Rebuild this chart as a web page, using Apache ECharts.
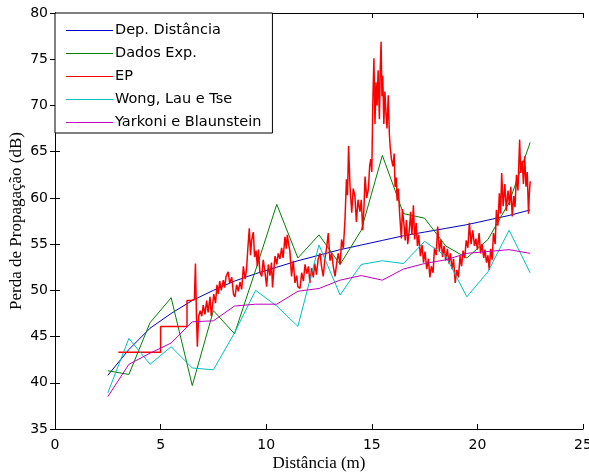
<!DOCTYPE html>
<html>
<head>
<meta charset="utf-8">
<script src="https://cdn.jsdelivr.net/npm/echarts@6/dist/echarts.min.js"></script>
<style>
  html, body { margin: 0; padding: 0; background: #fff; }
  #chart { width: 589px; height: 474px; }
</style>
</head>
<body>
<div id="chart"></div>
<script>
// distancias (m) dos pontos medidos / modelos
var distancias = [2.5, 3.5, 4.5, 5.5, 6.5, 7.5, 8.5, 9.5, 10.5, 11.5, 12.5,
  13.5, 14.5, 15.5, 16.5, 17.5, 18.5, 19.5, 20.5, 21.5, 22.5];

var depDistancia = [40.8, 43.6, 45.9, 47.5, 48.9, 50.0, 51.0, 51.8, 52.5, 53.2, 53.8,
  54.4, 54.9, 55.4, 55.9, 56.3, 56.7, 57.1, 57.6, 58.1, 58.7];

var dadosExp = [41.3, 40.9, 46.5, 49.2, 39.7, 47.8, 45.3, 52.2, 59.3, 53.5, 56.0,
  52.8, 56.5, 64.6, 58.3, 57.8, 54.8, 53.5, 55.5, 59.5, 66.0];

var wongLauTse = [38.9, 44.8, 42.0, 43.9, 41.6, 41.4, 45.4, 50.0, 48.3, 46.1, 54.9,
  49.5, 52.8, 53.2, 52.9, 55.3, 53.7, 49.3, 52.0, 56.5, 51.9];

var yarkoniBlaunstein = [38.5, 42.0, 43.2, 44.3, 46.6, 46.7, 48.3, 48.5, 48.5, 49.9, 50.2,
  51.1, 51.6, 51.1, 52.3, 52.9, 53.3, 54.0, 54.2, 54.4, 54.0];

// curva EP (amostrada da figura)
var epDist = [3.0, 5.0, 5.0, 6.25, 6.25, 6.45, 6.6, 6.65, 6.7, 6.74, 6.8, 6.88, 6.95,
  7.02, 7.1, 7.18, 7.25, 7.34, 7.4, 7.46, 7.52, 7.6, 7.67, 7.73, 7.8, 7.87, 7.97,
  8.03, 8.1, 8.2, 8.27, 8.37, 8.45, 8.52, 8.6, 8.68, 8.76, 8.84, 8.92, 9.0, 9.07,
  9.13, 9.2, 9.26, 9.31, 9.39, 9.45, 9.52, 9.58, 9.63, 9.7, 9.79, 9.86, 9.94, 10.02,
  10.1, 10.18, 10.25, 10.3, 10.37, 10.42, 10.5, 10.57, 10.65, 10.73, 10.8, 10.89,
  10.95, 11.0, 11.06, 11.12, 11.2, 11.28, 11.36, 11.44, 11.5, 11.6, 11.68, 11.76,
  11.84, 11.92, 12.0, 12.07, 12.15, 12.23, 12.3, 12.38, 12.46, 12.55, 12.62, 12.7,
  12.78, 12.86, 12.94, 13.02, 13.1, 13.18, 13.26, 13.34, 13.41, 13.5, 13.57, 13.65,
  13.73, 13.8, 13.85, 13.9, 13.97, 14.05, 14.12, 14.2, 14.27, 14.35, 14.44, 14.5,
  14.57, 14.63, 14.68, 14.76, 14.84, 14.9, 14.95, 15.0, 15.05, 15.1, 15.15, 15.2,
  15.25, 15.3, 15.36, 15.4, 15.44, 15.48, 15.52, 15.57, 15.62, 15.67, 15.72, 15.78,
  15.83, 15.87, 15.93, 16.0, 16.06, 16.1, 16.16, 16.2, 16.26, 16.32, 16.4, 16.45,
  16.52, 16.58, 16.64, 16.7, 16.78, 16.84, 16.9, 16.97, 17.03, 17.1, 17.16, 17.22,
  17.3, 17.38, 17.45, 17.52, 17.6, 17.68, 17.75, 17.82, 17.9, 17.97, 18.05, 18.12,
  18.2, 18.28, 18.35, 18.42, 18.5, 18.58, 18.65, 18.72, 18.8, 18.87, 18.95, 19.02,
  19.1, 19.18, 19.25, 19.32, 19.4, 19.47, 19.55, 19.62, 19.7, 19.78, 19.86, 19.93,
  20.0, 20.08, 20.15, 20.22, 20.3, 20.36, 20.43, 20.5, 20.56, 20.63, 20.7, 20.76,
  20.84, 20.9, 20.97, 21.04, 21.1, 21.15, 21.22, 21.3, 21.37, 21.45, 21.52, 21.58,
  21.65, 21.72, 21.78, 21.85, 21.92, 22.0, 22.05, 22.12, 22.18, 22.24, 22.3, 22.36,
  22.42, 22.46, 22.5];

var epPerda = [43.3, 43.3, 46.1, 46.1, 48.9, 48.9, 49.0, 52.9, 47.0, 43.9, 47.2, 47.8, 47.2,
  48.4, 47.4, 48.9, 47.6, 49.3, 47.2, 47.0, 49.6, 48.6, 50.6, 49.6, 51.0, 50.0, 51.1,
  50.3, 51.5, 52.0, 50.8, 51.4, 49.6, 49.3, 50.6, 49.9, 50.9, 50.1, 52.6, 51.2, 52.3,
  54.5, 56.7, 53.8, 55.4, 56.3, 53.6, 54.3, 52.6, 54.4, 52.0, 51.5, 53.3, 52.0, 50.4,
  52.8, 51.6, 53.0, 50.3, 52.5, 53.7, 52.8, 54.0, 53.4, 54.6, 53.5, 55.8,
  54.5, 56.0, 55.0, 54.3, 51.5, 53.2, 50.8, 51.6, 50.4, 50.2, 51.9, 51.0,
  52.8, 51.8, 52.6, 50.8, 52.4, 51.4, 52.9, 51.7, 53.4, 54.0, 52.6, 51.5,
  53.4, 54.6, 56.2, 53.2, 54.0, 52.5, 51.5, 53.0, 54.0, 52.8, 55.5, 54.5,
  57.6, 62.0, 60.3, 65.6, 61.2, 58.4, 61.0, 60.2, 57.4, 59.8, 58.5, 59.8,
  56.5, 59.0, 62.3, 60.0, 61.0, 63.5, 64.2, 62.8, 70.5, 75.1, 68.0, 72.5,
  70.0, 73.8, 68.5, 74.0, 76.9, 71.0, 73.2, 68.0, 71.5, 69.2, 67.5, 71.1,
  67.0, 65.5, 64.2, 63.4, 64.8, 61.2, 62.2, 59.7, 61.0, 58.2, 55.6, 58.8,
  57.2, 55.4, 57.6, 55.0, 56.6, 58.5, 56.0, 59.2, 55.5, 57.3, 54.8, 56.0,
  53.7, 54.9, 53.0, 54.2, 52.3, 53.4, 51.4, 52.6, 51.9, 54.6, 53.8, 56.9,
  54.2, 55.5, 53.6, 54.8, 53.2, 54.5, 52.9, 54.0, 52.3, 53.4, 50.8, 52.2,
  51.4, 53.7, 52.6, 54.3, 53.5, 55.4, 54.6, 57.3, 55.0, 56.5, 54.8, 55.6,
  54.4, 56.2, 54.0, 55.0, 53.5, 54.4, 53.0, 53.8, 52.2, 54.5, 53.3, 56.2,
  55.0, 58.7, 57.0, 60.5, 58.3, 62.7, 59.1, 61.5, 58.6, 60.8, 59.2, 61.2,
  58.0, 60.2, 59.0, 62.5, 60.8, 66.3, 62.7, 64.0, 61.5, 64.5, 61.2, 62.8,
  58.3, 60.5, 61.8];

function pares(xs, ys) {
  var res = [];
  for (var i = 0; i < xs.length; i++) res.push([xs[i], ys[i]]);
  return res;
}

var myChart = echarts.init(document.getElementById("chart"));

var tickFont = { fontFamily: "DejaVu Sans", fontSize: 14, color: "#000" };
var serifName = { fontFamily: "Liberation Serif", fontSize: 17, color: "#000" };

function linha(nome, cor, dados, largura) {
  return {
    name: nome,
    type: "line",
    data: dados,
    symbol: "none",
    showSymbol: false,
    smooth: false,
    lineStyle: { color: cor, width: largura || 1 },
    itemStyle: { color: cor },
  };
}

var option = {
  backgroundColor: "#fff",
  animation: false,
  grid: { left: 55, right: 6, top: 13, bottom: 45, outerBoundsMode: "none", containLabel: false },
  legend: {
    orient: "vertical",
    left: 55,
    top: 13,
    padding: [10, 11, 3, 11],
    icon: "rect",
    itemWidth: 47,
    itemHeight: 1.2,
    itemGap: 8,
    backgroundColor: "#fff",
    borderColor: "#000",
    borderWidth: 1,
    borderRadius: 0,
    textStyle: {
      fontFamily: "DejaVu Sans",
      fontSize: 14.5,
      lineHeight: 14,
      color: "#000",
      padding: [0, 0, 0, -3],
    },
    data: ["Dep. Distância", "Dados Exp.", "EP", "Wong, Lau e Tse", "Yarkoni e Blaunstein"],
  },
  xAxis: [
    {
      type: "value",
      min: 0,
      max: 25,
      interval: 5,
      name: "Distância (m)",
      nameLocation: "middle",
      nameMoveOverlap: false,
      nameGap: 26,
      nameTextStyle: serifName,
      axisLine: { lineStyle: { color: "#000", width: 1 } },
      axisTick: { inside: true, length: 5, lineStyle: { color: "#000" } },
      axisLabel: Object.assign({ margin: 9 }, tickFont),
      splitLine: { show: false },
    },
    {
      type: "value",
      position: "top",
      min: 0,
      max: 25,
      interval: 5,
      axisLine: { lineStyle: { color: "#000", width: 1 } },
      axisTick: { inside: true, length: 5, lineStyle: { color: "#000" } },
      axisLabel: { show: false },
      splitLine: { show: false },
    },
  ],
  yAxis: [
    {
      type: "value",
      min: 35,
      max: 80,
      interval: 5,
      name: "Perda de Propagação (dB)",
      nameLocation: "middle",
      nameRotate: 90,
      nameMoveOverlap: false,
      nameGap: 30,
      nameTextStyle: serifName,
      axisLine: { show: true, lineStyle: { color: "#000", width: 1 } },
      axisTick: { show: true, inside: true, length: 5, lineStyle: { color: "#000" } },
      axisLabel: Object.assign({ margin: 7 }, tickFont),
      splitLine: { show: false },
    },
    {
      type: "value",
      position: "right",
      min: 35,
      max: 80,
      interval: 5,
      axisLine: { show: true, lineStyle: { color: "#000", width: 1 } },
      axisTick: { show: true, inside: true, length: 5, lineStyle: { color: "#000" } },
      axisLabel: { show: false },
      splitLine: { show: false },
    },
  ],
  series: [
    linha("Dep. Distância", "#0000c8", pares(distancias, depDistancia)),
    linha("Dados Exp.", "#008000", pares(distancias, dadosExp)),
    linha("EP", "#ff0000", pares(epDist, epPerda), 1.5),
    linha("Wong, Lau e Tse", "#00bfbf", pares(distancias, wongLauTse)),
    linha("Yarkoni e Blaunstein", "#bf00bf", pares(distancias, yarkoniBlaunstein)),
  ],
};

myChart.setOption(option);
window.addEventListener("resize", function () {
  myChart.resize();
});
</script>
</body>
</html>
